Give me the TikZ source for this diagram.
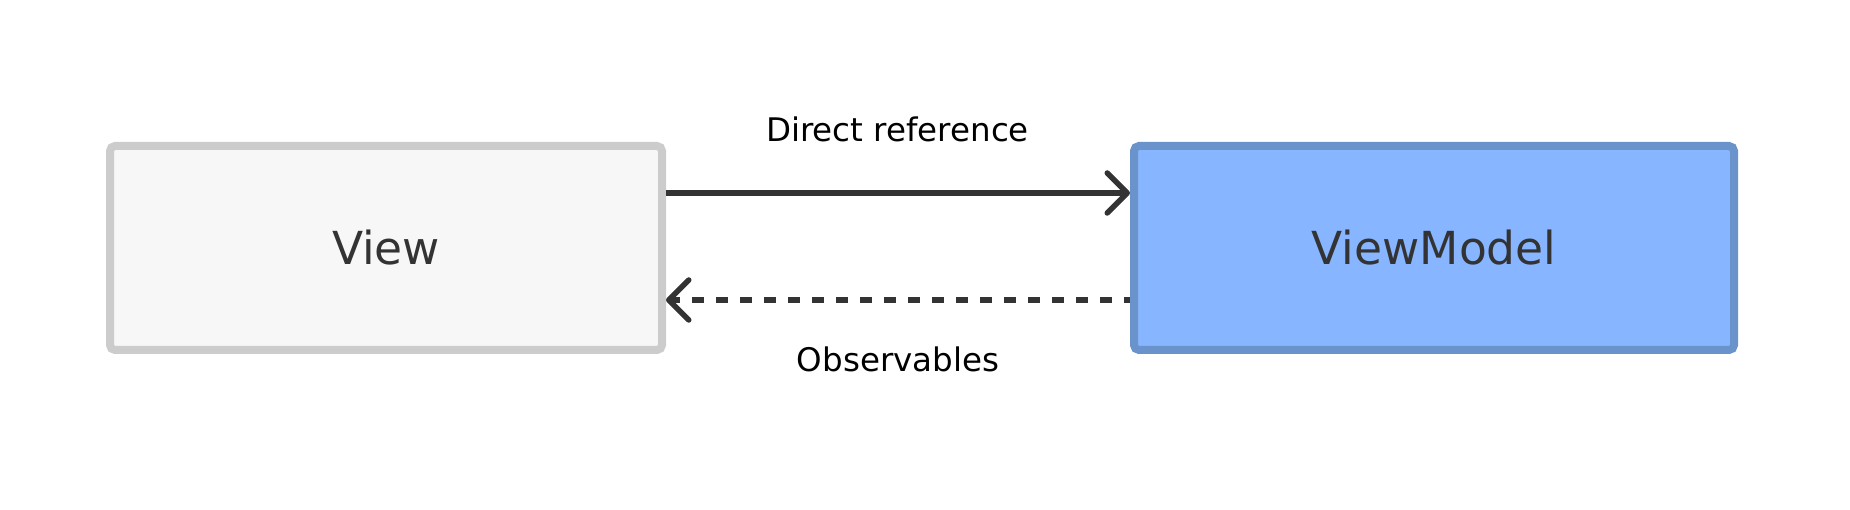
\documentclass[tikz,border=0pt]{standalone}
\usepackage{fontspec}
\setmainfont{DejaVu Sans}
\usetikzlibrary{arrows.meta}
\definecolor{viewfill}{HTML}{F7F7F7}
\definecolor{viewdraw}{HTML}{CCCCCC}
\definecolor{vmfill}{HTML}{87B5FF}
\definecolor{vmdraw}{HTML}{6B93CB}
\definecolor{ink}{HTML}{333333}
\begin{document}
\begin{tikzpicture}[x=1pt,y=1pt,
  box/.style={rectangle, rounded corners=5pt, line width=8pt, minimum height=204pt,
    inner sep=0pt, text height=33pt, text depth=0pt, text=ink,
    font=\fontsize{45.5}{55}\selectfont},
  lbl/.style={anchor=base, inner sep=0pt, text=black, font=\fontsize{32.5}{39}\selectfont},
  conn/.style={draw=ink, line width=5.5pt,
    -{Straight Barb[length=20pt,width=40pt,line cap=round,line join=round]}},
]
\useasboundingbox (0,0) rectangle (1850,-510);
\node[box, fill=viewfill, draw=viewdraw, minimum width=552pt] (view) at (386,-248) {View};
\node[box, fill=vmfill, draw=vmdraw, minimum width=600pt] (vm) at (1434,-248) {ViewModel};
\draw[conn] ([yshift=55pt]view.east) -- ([yshift=55pt]vm.west);
\draw[conn, dash pattern=on 12pt off 12pt, dash phase=6pt] ([yshift=-52pt]vm.west) -- ([yshift=-52pt]view.east);
\node[lbl] (direct) at (897.5,-142) {Direct reference};
\node[lbl] (obs) at (898,-371.5) {Observables};
\end{tikzpicture}
\end{document}
